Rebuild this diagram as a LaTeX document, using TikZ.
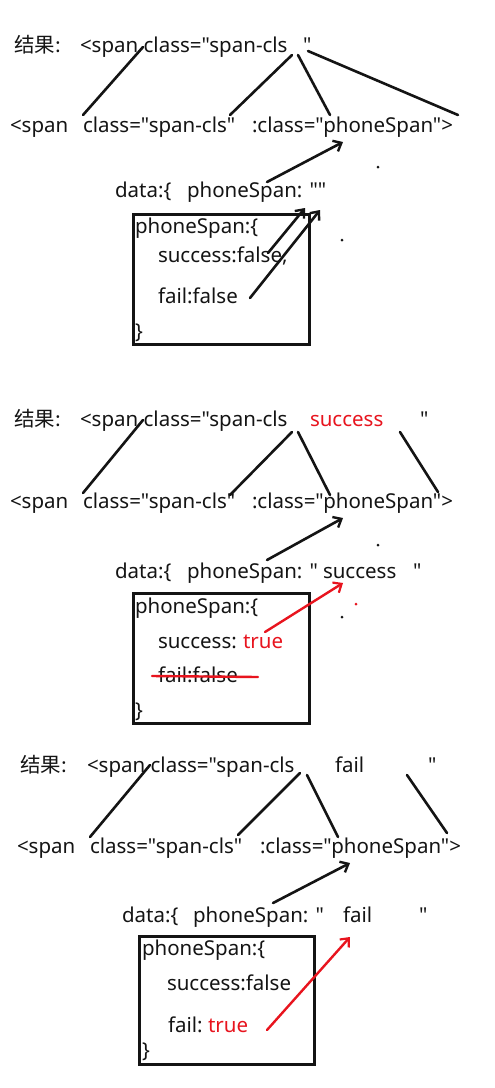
\documentclass[tikz,border=0pt]{standalone}
\usepackage{fontspec}
\setmainfont{Noto Sans}[Ligatures=TeXOff]
\newfontfamily\cjk{Noto Sans CJK SC}
\usetikzlibrary{arrows.meta}
\definecolor{ink}{RGB}{20,20,20}
\definecolor{hred}{RGB}{232,20,30}
\tikzset{
  t/.style={anchor=base west,inner sep=0pt,outer sep=0pt,text=ink,font=\fontsize{20.5}{24}\selectfont},
  tr/.style={t,text=hred},
  ln/.style={draw=ink,line width=2.6pt,line cap=round},
  arr/.style={ln,-{Straight Barb[length=7pt,width=12pt,line width=2.4pt]}},
  rarr/.style={draw=hred,line width=2.4pt,line cap=round,-{Straight Barb[length=7pt,width=12pt,line width=2.2pt]}},
  boxd/.style={draw=ink,line width=2.6pt},
  dotb/.style={fill=ink,circle,inner sep=0pt,minimum size=3pt},
  dotr/.style={fill=hred,circle,inner sep=0pt,minimum size=3pt}
}
\begin{document}
\begin{tikzpicture}[x=1pt,y=-1pt]
\useasboundingbox (0,0) rectangle (495,1088);
\fill[white] (0,0) rectangle (495,1088);
% ===== Panel 1 =====
\node[t] (a1) at (14,52) {\cjk 结果:};
\node[t] (a2) at (80,52) {<span class="span-cls};
\node[t] (a2q) at (303,52) {"};
\node[t] (a3) at (10,132) {<span};
\node[t] (a4) at (83,132) {class="span-cls"};
\node[t] (a5) at (252,132) {:class="phoneSpan">};
\node[t] (a6) at (115,197) {data:\{};
\node[t] (a7) at (187,197) {phoneSpan: ""};
\node[t] (a8) at (135,233) {phoneSpan:\{};
\node[t] (a9) at (158,262) {success:false,};
\node[t] (a10) at (158,303) {fail:false};
\node[t] (a11) at (135,338) {\}};
\node[boxd,inner sep=0pt,minimum width=176pt,minimum height=130pt,anchor=north west] (abox) at (132,213) {};
\coordinate (a1s) at (143,47); \coordinate (a1e) at (83,115);
\coordinate (a2s) at (292,55); \coordinate (a2e) at (230,115);
\coordinate (a3s) at (298,55); \coordinate (a3e) at (330,115);
\coordinate (a4s) at (308,51); \coordinate (a4e) at (458,115);
\coordinate (a5s) at (267,182); \coordinate (a5e) at (343,142);
\coordinate (a6s) at (268,253); \coordinate (a6e) at (305,208);
\coordinate (a7s) at (250,298); \coordinate (a7e) at (320,210);
\draw[ln] (a1s) -- (a1e);
\draw[ln] (a2s) -- (a2e);
\draw[ln] (a3s) -- (a3e);
\draw[ln] (a4s) -- (a4e);
\draw[arr] (a5s) -- (a5e);
\draw[arr] (a6s) -- (a6e);
\draw[arr] (a7s) -- (a7e);
\node[dotb] (ad1) at (378,167) {};
\node[dotb] (ad2) at (342,240) {};
% ===== Panel 2 =====
\node[t] (b1) at (14,426) {\cjk 结果:};
\node[t] (b2) at (80,426) {<span class="span-cls};
\node[tr] (b2r) at (310,426) {success};
\node[t] (b2q) at (420,426) {"};
\node[t] (b3) at (10,508) {<span};
\node[t] (b4) at (83,508) {class="span-cls"};
\node[t] (b5) at (252,508) {:class="phoneSpan">};
\node[t] (b6) at (115,578) {data:\{};
\node[t] (b7) at (187,578) {phoneSpan: "};
\node[t] (b7s) at (323,578) {success};
\node[t] (b7q) at (413,578) {"};
\node[t] (b8) at (135,613) {phoneSpan:\{};
\node[t] (b9) at (158,648) {success:};
\node[tr] (b9r) at (243,648) {true};
\node[t] (b10) at (158,682) {fail:false};
\node[t] (b11) at (135,717) {\}};
\node[boxd,inner sep=0pt,minimum width=176pt,minimum height=130pt,anchor=north west] (bbox) at (132,592) {};
\coordinate (b1s) at (143,420); \coordinate (b1e) at (83,493);
\coordinate (b2s) at (292,432); \coordinate (b2e) at (230,495);
\coordinate (b3s) at (298,432); \coordinate (b3e) at (330,495);
\coordinate (b4s) at (400,432); \coordinate (b4e) at (438,492);
\coordinate (b5s) at (267,560); \coordinate (b5e) at (343,518);
\coordinate (b6s) at (265,632); \coordinate (b6e) at (343,583);
\coordinate (bks) at (152,676); \coordinate (bke) at (258,677);
\draw[ln] (b1s) -- (b1e);
\draw[ln] (b2s) -- (b2e);
\draw[ln] (b3s) -- (b3e);
\draw[ln] (b4s) -- (b4e);
\draw[arr] (b5s) -- (b5e);
\draw[rarr] (b6s) -- (b6e);
\draw[draw=hred,line width=2.4pt,line cap=round] (bks) -- (bke);
\node[dotb] (bd1) at (378,545) {};
\node[dotr] (bd2) at (356,604) {};
\node[dotb] (bd3) at (342,617) {};
% ===== Panel 3 =====
\node[t] (c1) at (20,772) {\cjk 结果:};
\node[t] (c2) at (87,772) {<span class="span-cls};
\node[t] (c2f) at (335,772) {fail};
\node[t] (c2q) at (428,772) {"};
\node[t] (c3) at (17,853) {<span};
\node[t] (c4) at (90,853) {class="span-cls"};
\node[t] (c5) at (260,853) {:class="phoneSpan">};
\node[t] (c6) at (122,922) {data:\{};
\node[t] (c7) at (193,922) {phoneSpan: "};
\node[t] (c7f) at (343,922) {fail};
\node[t] (c7q) at (419,922) {"};
\node[t] (c8) at (142,955) {phoneSpan:\{};
\node[t] (c9) at (167,990) {success:false};
\node[t] (c10) at (168,1032) {fail:};
\node[tr] (c10r) at (208,1032) {true};
\node[t] (c11) at (142,1057) {\}};
\node[boxd,inner sep=0pt,minimum width=175pt,minimum height=128pt,anchor=north west] (cbox) at (138,935) {};
\coordinate (c1s) at (150,765); \coordinate (c1e) at (90,837);
\coordinate (c2s) at (300,773); \coordinate (c2e) at (238,835);
\coordinate (c3s) at (307,775); \coordinate (c3e) at (338,837);
\coordinate (c4s) at (407,775); \coordinate (c4e) at (447,833);
\coordinate (c5s) at (273,903); \coordinate (c5e) at (350,863);
\coordinate (c6s) at (267,1030); \coordinate (c6e) at (350,937);
\draw[ln] (c1s) -- (c1e);
\draw[ln] (c2s) -- (c2e);
\draw[ln] (c3s) -- (c3e);
\draw[ln] (c4s) -- (c4e);
\draw[arr] (c5s) -- (c5e);
\draw[rarr] (c6s) -- (c6e);
\end{tikzpicture}
\end{document}
